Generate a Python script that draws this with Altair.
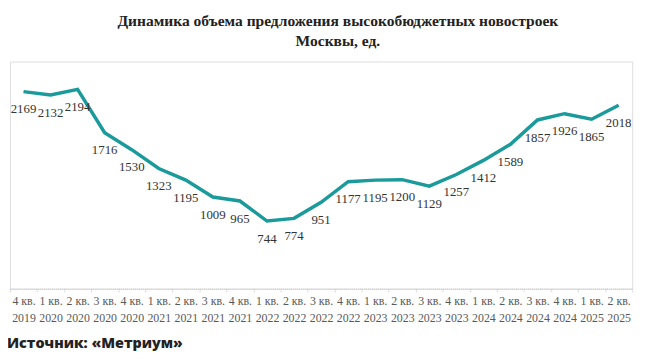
import altair as alt
import pandas as pd

quarters = ["4 кв.|2019", "1 кв.|2020", "2 кв.|2020", "3 кв.|2020", "4 кв.|2020",
            "1 кв.|2021", "2 кв.|2021", "3 кв.|2021", "4 кв.|2021",
            "1 кв.|2022", "2 кв.|2022", "3 кв.|2022", "4 кв.|2022",
            "1 кв.|2023", "2 кв.|2023", "3 кв.|2023", "4 кв.|2023",
            "1 кв.|2024", "2 кв.|2024", "3 кв.|2024", "4 кв.|2024",
            "1 кв.|2025", "2 кв.|2025"]
values = [2169, 2132, 2194, 1716, 1530, 1323, 1195, 1009, 965, 744, 774, 951,
          1177, 1195, 1200, 1129, 1257, 1412, 1589, 1857, 1926, 1865, 2018]

title_lines = ["Динамика объема предложения высокобюджетных новостроек", "Москвы, ед."]
source_text = "Источник: «Метриум»"

df = pd.DataFrame({"q": quarters, "v": values})

x = alt.X("q:N", sort=quarters, title=None,
          scale=alt.Scale(paddingInner=0, paddingOuter=0),
          axis=alt.Axis(labelExpr="split(datum.label, '|')", labelAngle=0,
                        labelFont="Liberation Serif", labelFontSize=12,
                        labelColor="#595959", labelLineHeight=17, labelPadding=4,
                        domainColor="#c0c0c0", domainDash=[1, 1], domainWidth=1,
                        tickBand="extent", tickColor="#c0c0c0", tickSize=3,
                        tickDash=[1, 1]))
y = alt.Y("v:Q", scale=alt.Scale(domain=[0, 2500]), axis=None)

base = alt.Chart(df)
line = base.mark_line(color="#1a9a9a", strokeWidth=3.5).encode(x=x, y=y)
labels = base.mark_text(font="Liberation Serif", fontSize=13, color="#333333",
                        dy=18, align="center", baseline="middle").encode(
    x=x, y=y, text="v:Q")
source = alt.Chart(pd.DataFrame({"t": [source_text]})).mark_text(
    font="Open Sans", fontWeight=800, fontSize=14.5, color="#222222",
    align="left", baseline="middle").encode(
    x=alt.value(-3), y=alt.value(286), text="t:N")

chart = (line + labels + source).properties(
    width=630, height=230,
    title=alt.TitleParams(title_lines, font="Liberation Serif", fontSize=15.7,
                          fontWeight="bold", color="#222222", lineHeight=20,
                          anchor="middle", dx=17, offset=12),
    autosize=alt.AutoSizeParams(type="none"),
    padding={"left": 2, "top": 52, "right": 15, "bottom": 69},
).configure_view(stroke=None).configure(background="white")

chart.save("out.html", embed_options={"renderer": "svg", "actions": False})
